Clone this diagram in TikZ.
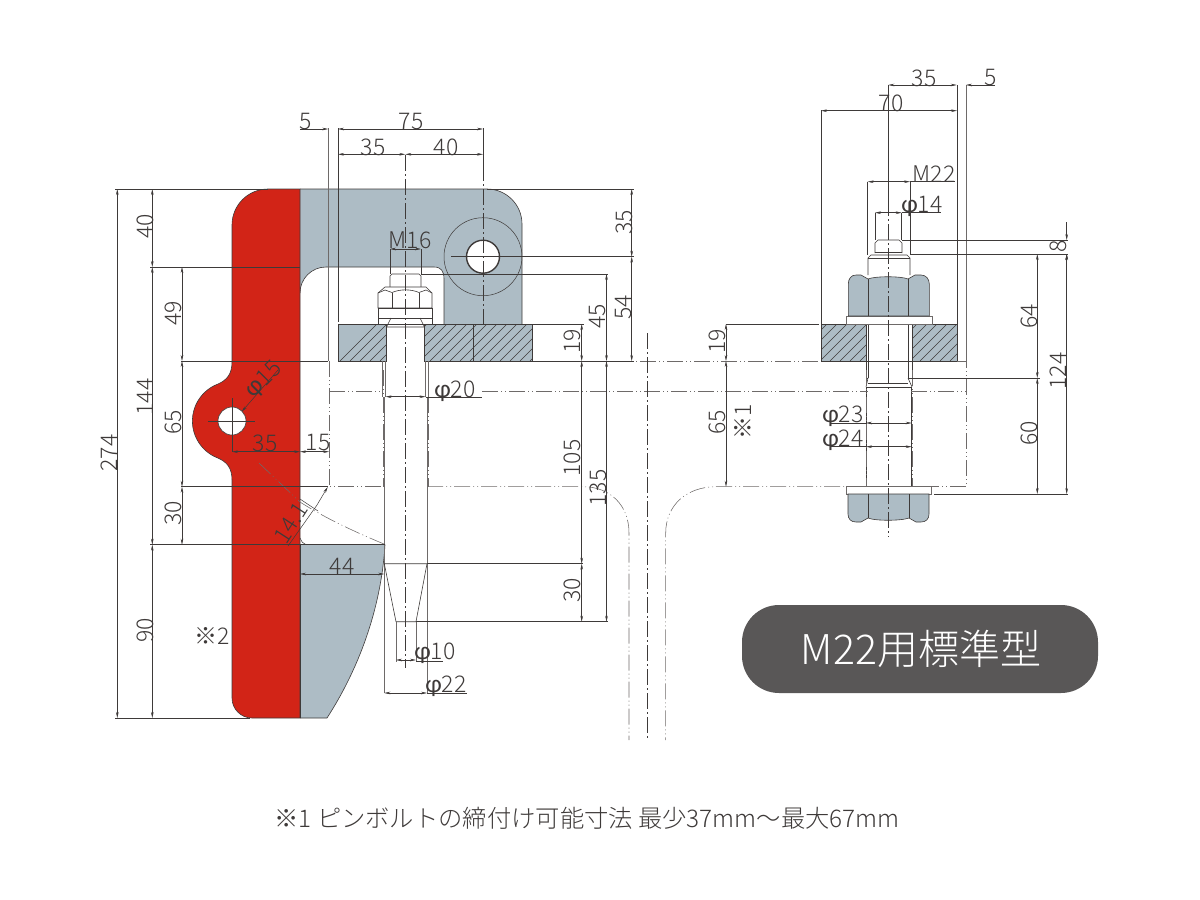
\documentclass[tikz,border=0pt]{standalone}
\usepackage{fontspec}
\usetikzlibrary{arrows.meta}
\setmainfont{Noto Sans CJK JP Light}
\newfontfamily\greekf[Scale=1.1]{Carlito}
\definecolor{lineclr}{HTML}{3E3A39}
\definecolor{greyclr}{HTML}{6E6A69}
\definecolor{steelclr}{HTML}{ADBCC5}
\definecolor{redclr}{HTML}{D22417}
\definecolor{pillclr}{HTML}{595757}
\newcommand{\phichar}{{\greekf φ}}
\tikzset{
  outline/.style={draw=lineclr,line width=.6pt},
  thinline/.style={draw=lineclr,line width=.5pt},
  greyline/.style={draw=greyclr,line width=.6pt},
  hatchline/.style={draw=lineclr,line width=.4pt},
  dimline/.style={draw=lineclr,line width=.5pt,{Stealth[length=6pt,width=2.6pt]}-{Stealth[length=6pt,width=2.6pt]}},
  dimend/.style={draw=lineclr,line width=.5pt,-{Stealth[length=6pt,width=2.6pt]}},
  phantom/.style={draw=greyclr,line width=.55pt,dash pattern=on 16pt off 3pt on 1pt off 3pt on 1pt off 3pt},
  centerline/.style={draw=lineclr,line width=.55pt,dash pattern=on 16pt off 3pt on 2pt off 3pt},
  dimtext/.style={inner sep=0pt,text=lineclr,font=\fontsize{23}{23}\selectfont},
  dimtextv/.style={dimtext,rotate=90},
}
\begin{document}
\begin{tikzpicture}[x=1pt,y=1pt,yscale=-1]
\useasboundingbox (0,0) rectangle (1200,900);
% steel parts
\fill[steelclr] (300,189) -- (487,189) arc[start angle=270,end angle=360,radius=35pt] -- (522,324) -- (444,324) -- (444,279) .. controls (444,271) and (441,267) .. (434,267) -- (326,267) arc[start angle=270,end angle=180,radius=26pt] -- cycle;
\draw[outline] (300,293) arc[start angle=180,end angle=270,radius=26pt] -- (434,267) .. controls (441,267) and (444,271) .. (444,279) -- (444,324);
\draw[outline] (300,189) -- (487,189) arc[start angle=270,end angle=360,radius=35pt] -- (522,324);
\fill[steelclr] (300,544.7) -- (385,544.7) .. controls (381,610) and (358,670) .. (327,718) -- (300,718) -- cycle;
\draw[outline] (385,544.7) .. controls (381,610) and (358,670) .. (327,718) -- (300,718);
% red part
\path[fill=redclr,outline] (300,189) -- (268,189) arc[start angle=270,end angle=180,radius=36pt] -- (232,362) .. controls (232,374) and (227,380) .. (218,384) arc[start angle=249.3,end angle=110.7,radius=39.6pt] .. controls (227,462) and (232,468) .. (232,480) -- (232,698) arc[start angle=180,end angle=90,radius=20pt] -- (300,718) -- cycle;
\draw[fill=white,outline] (232,421) circle[radius=14pt];
% pivot hole
\draw[thinline] (483,256.7) circle[radius=39pt];
\draw[fill=white,draw=lineclr,line width=1.4pt] (483,256.7) circle[radius=16.5pt];
% plates
\fill[steelclr] (338,324) rectangle (386.5,361);
\fill[steelclr] (424.5,324) rectangle (532,361);
\fill[steelclr] (821,324) rectangle (866,361);
\fill[steelclr] (912,324) rectangle (957,361);
\begin{scope}
\clip (338,324) rectangle (386.5,361) (424.5,324) rectangle (532,361) (821,324) rectangle (866,361) (912,324) rectangle (957,361);
\foreach \hx in {340,350,...,1000}{
  \draw[hatchline] (\hx,361) -- (\hx+37,324);
}
\end{scope}
\foreach \ax/\bx in {338/386.5,424.5/532,821/866,912/957}{
  \draw[outline] (\ax,324) rectangle (\bx,361);
}
\draw[outline] (473.3,324) -- (473.3,361);
% left bolt
\draw[outline,fill=white] (390,287) -- (390,276) -- (392,274) -- (419,274) -- (421,276) -- (421,287);
\draw[outline,fill=white] (378,308) -- (378,293) -- (385,287) -- (426,287) -- (432,293) -- (432,308) -- cycle;
\draw[outline] (378,293) -- (385,290) -- (392,292.5) .. controls (400,289) and (411,289) .. (419,292.5) -- (426,290) -- (432,293);
\draw[outline] (392,292.5) -- (392,308) (419,292.5) -- (419,308);
\draw[outline,fill=white] (378,308) rectangle (432,318);
\draw[outline,fill=white] (378,318) rectangle (432,324);
\draw[outline] (391,318) -- (386.5,327) -- (424.5,327) -- (420,318);
\draw[thinline] (391,318) -- (420,318) (386.5,324) -- (386.5,361) (424.5,324) -- (424.5,361);
\draw[greyline] (382.7,361) -- (382.7,397) (385.5,361) -- (385.5,397) (425.5,361) -- (425.5,397) (428,361) -- (428,397);
% pin
\draw[greyline] (384.3,397) -- (384.3,693) (427,397) -- (427,693);
\draw[outline] (384.3,563.7) -- (427,563.7) -- (416,621.7) -- (396,621.7) -- cycle;
\draw[greyline] (396,621.7) -- (396,661.5) (416,621.7) -- (416,661.5);
% right bolt
\draw[outline,fill=white] (875,253) -- (875,243) -- (878,240) -- (899,240) -- (902,243) -- (902,253);
\draw[outline] (875,252) -- (902,252);
\draw[outline,fill=white] (868,275) -- (868,258) -- (871,255) -- (907,255) -- (910,258) -- (910,275);
\draw[thinline] (868,258) -- (910,258);
\draw[outline,fill=white] (866,324) rectangle (912,361);
\draw[thinline] (868,316) -- (868,378) (908,316) -- (908,378);
\draw[outline] (866,361) -- (866,378) -- (868,378) (912,361) -- (912,378) -- (908,378);
\draw[outline] (868,378) -- (866,387) (908,378) -- (912,387);
\draw[draw=lineclr,line width=1pt] (866,387) -- (912,387);
\draw[thinline] (868,383) -- (908,383);
\draw[outline] (866,387) -- (866,487) (911.7,387) -- (911.7,487);
\draw[greyline,fill=white] (846,316) rectangle (932,324.5);
\draw[outline,fill=steelclr] (848.3,316) -- (848.3,284) .. controls (848.3,279) and (851,275) .. (856,275) -- (861,275) -- (868,279) .. controls (875,276) and (901,276) .. (908,279) -- (915,275) -- (921,275) .. controls (926,275) and (929.3,279) .. (929.3,284) -- (929.3,316) -- cycle;
\draw[outline] (868,279) -- (868,316) (908,279) -- (908,316);
\draw[greyline,fill=white] (846.7,486.7) rectangle (931.7,494);
\draw[outline,fill=steelclr] (848,494) -- (848,514) .. controls (848,519) and (851,522) .. (856,522) -- (861,522) -- (868,518) .. controls (875,521) and (901,521) .. (909,518) -- (916,522) -- (921,522) .. controls (926,522) and (929,519) .. (929,514) -- (929,494) -- cycle;
\draw[outline] (868,494) -- (868,518) (909,494) -- (909,518);
% phantom lines
\draw[phantom] (329,361) -- (329,486.7) -- (384,486.7);
\draw[phantom] (329,391.7) -- (383,391.7);
\draw[phantom] (383.3,370) -- (383.3,486.7) (428,370) -- (428,486.7);
\draw[phantom] (482,391.7) -- (868,391.7) (911,391.7) -- (966,391.7);
\draw[phantom] (532,361) -- (821,361) (957,361) -- (966,361) -- (966,486.7) -- (911,486.7);
\draw[phantom] (427,486.7) -- (583,486.7) .. controls (610,486.7) and (629,505) .. (629,533) -- (629,740);
\draw[phantom] (867,486.7) -- (716,486.7) .. controls (687,486.7) and (665.7,505) .. (665.7,533) -- (665.7,740);
\draw[phantom] (866,370) -- (866,486.7) (912,370) -- (912,486.7);
\draw[phantom] (259,463) -- (300,502) .. controls (325,518) and (355,532) .. (384,544);
\draw[thinline] (300,538) .. controls (301,541) and (303,544) .. (306,544.7);
% centre lines
\draw[centerline] (405.3,155) -- (405.3,668);
\draw[centerline] (483,165) -- (483,324);
\draw[thinline] (483,128) -- (483,165);
\draw[centerline] (647,333) -- (647,740);
\draw[thinline] (888.3,85) -- (888.3,200);
\draw[centerline] (888.3,200) -- (888.3,537);
\draw[thinline] (451,256.7) -- (522,256.7);
\draw[thinline] (208,421) -- (255,421) (232,398) -- (232,452);
% extension lines
\draw[greyline] (328.3,128) -- (328.3,361) (966,85) -- (966,361);
\draw[outline] (338,128) -- (338,322) (821,110) -- (821,324) (957,85) -- (957,324);
\draw[thinline] (483,128) -- (483,165);
\draw[outline] (115,189) -- (268,189) (115,718) -- (250,718);
\draw[outline] (150,267) -- (300,267) (150,544.7) -- (300,544.7);
\draw[outline] (300,544.7) -- (385,544.7) (300,544.7) -- (300,718);
\draw[outline] (181,361) -- (328,361) (181,486.7) -- (328,486.7);
\draw[outline] (487,189) -- (634,189) (522,256.7) -- (634,256.7) (421,274) -- (608,274);
\draw[outline] (532,324) -- (584,324) (532,361) -- (634,361);
\draw[outline] (427,563.7) -- (583,563.7) (416,621.7) -- (608,621.7);
\draw[outline] (726,324) -- (819,324);
\draw[thinline] (390,249) -- (390,274) (421,249) -- (421,274);
\draw[thinline] (867.7,181.7) -- (867.7,255) (910,181.7) -- (910,255) (875,212.7) -- (875,240) (901.7,212.7) -- (901.7,240);
\draw[outline] (902,240) -- (1068,240) (910,254) -- (1068,254) (912,378) -- (1040,378) (934,494) -- (1068,494);
% dimension lines
\draw[dimline] (117.3,189) -- (117.3,718);
\draw[dimline] (152.3,189) -- (152.3,267);
\draw[dimline] (152.3,267) -- (152.3,544.7);
\draw[dimline] (152.3,544.7) -- (152.3,718);
\draw[dimline] (182,267) -- (182,361);
\draw[dimline] (182,361) -- (182,486.7);
\draw[dimline] (182,486.7) -- (182,544.7);
\draw[dimline] (232,451.7) -- (300,451.7);
\draw[dimline] (300,451.7) -- (329,451.7);
\draw[dimline] (300,574) -- (384.3,574);
\draw[dimend] (300,129) -- (328.3,129);
\draw[dimline] (338,129) -- (483,129);
\draw[dimline] (338,154.3) -- (405.3,154.3);
\draw[dimline] (405.3,154.3) -- (483,154.3);
\draw[dimline] (390,249) -- (421,249);
\draw[dimline] (631.7,189) -- (631.7,256.7);
\draw[dimline] (631.7,256.7) -- (631.7,361);
\draw[dimline] (606.5,274) -- (606.5,361);
\draw[dimline] (581.7,324) -- (581.7,361);
\draw[dimline] (581.7,361) -- (581.7,563.7);
\draw[dimline] (581.7,563.7) -- (581.7,621.7);
\draw[dimline] (606.5,361) -- (606.5,621.7);
\draw[dimline] (385.5,396.7) -- (425.5,396.7);
\draw[thinline] (425.5,397) -- (482,397);
\draw[dimline] (396,660) -- (416,660);
\draw[thinline] (416,661) -- (443,661);
\draw[dimline] (384.3,693) -- (427,693);
\draw[thinline] (427,693.7) -- (467,693.7);
\draw[dimline] (888.3,85) -- (956.7,85);
\draw[dimend] (995,85) -- (966,85);
\draw[dimline] (821,110.7) -- (957,110.7);
\draw[dimline] (867.7,181.7) -- (910,181.7);
\draw[thinline] (910,181.7) -- (955,181.7);
\draw[dimline] (875,212.7) -- (901.7,212.7);
\draw[thinline] (901.7,212.7) -- (941,212.7);
\draw[dimend] (1066.7,222) -- (1066.7,240);
\draw[dimend] (1066.7,270) -- (1066.7,254);
\draw[dimline] (1037.3,254) -- (1037.3,378);
\draw[dimline] (1037.3,378) -- (1037.3,494);
\draw[dimline] (1066.7,254) -- (1066.7,494);
\draw[dimline] (726,324) -- (726,361);
\draw[dimline] (726,361) -- (726,486.7);
\draw[dimline] (866,423) -- (911.7,423);
\draw[thinline] (830,423) -- (866,423);
\draw[dimline] (866,446.7) -- (911.7,446.7);
\draw[thinline] (830,446.7) -- (866,446.7);
\draw[dimend] (278,370) -- (241.7,411.7);
\draw[thinline] (288,546) -- (317,505);
\draw[dimend] (317,505) -- (327.7,487);
\draw[thinline] (300,499) -- (318,511);
% horizontal labels
\foreach \nm/\lx/\ly/\txt in {fiveL/306/121/5,seventyfive/411/121/75,thirtyfiveT/373/146/35,fortyT/446/146/40,
  sixteen/410/239/M16,thirtyfiveB/265/442/35,fifteen/318/442/15,fortyfour/342/565/44,
  noteB/212/635/※2,thirtyfiveR/924/77/35,fiveR/991/77/5,seventy/891/102/70,twentytwo/934/173/M22}{
  \node[dimtext] (\nm) at (\lx,\ly+1) {\txt};
}
\foreach \nm/\lx/\ly/\txt in {dTwenty/455/390/20,dTen/435/652/10,dBig/446/685/22,dFourteen/922/205/14,dThree/843/415/23,dFour/843/439/24}{
  \node[dimtext] (\nm) at (\lx,\ly+1) {\phichar\txt};
}
% vertical labels
\foreach \nm/\lx/\ly/\txt in {total/109/453/274,forty/145/226/40,onefourfour/145/397/144,ninety/145/630/90,
  fortynine/173/313/49,sixtyfive/173/422/65,thirty/173/513/30,
  thirtyfiveV/624/222/35,fiftyfour/624/307/54,fortyfive/598/316/45,nineteen/572/341/19,
  onezerofive/572/458/105,thirtyB/572/590/30,onethirtyfive/598/488/135,
  nineteenR/717/341/19,sixtyfiveR/717/422/65,noteA/743/422/※1,
  eight/1058/246.7/8,sixtyfour/1029/316/64,sixty/1029/433/60,onetwofour/1058/371/124}{
  \node[dimtextv] (\nm) at (\lx,\ly) {\txt};
}
\node[dimtext,rotate=45] (holedia) at (264,380) {\phichar15};
\node[dimtext,rotate=57] (chamfer) at (291,523) {14.1};
% title and note
\draw[fill=pillclr,draw=none,rounded corners=37pt] (742,605) rectangle (1098,693);
\node[inner sep=0pt,text=white,font=\fontsize{41}{41}\selectfont] (title) at (921,649) {M22用標準型};
\node[inner sep=0pt,text=lineclr,font=\fontsize{24.3}{24.3}\selectfont] (footnote) at (587,818) {※1 ピンボルトの締付け可能寸法 最少37mm〜最大67mm};
\end{tikzpicture}
\end{document}
